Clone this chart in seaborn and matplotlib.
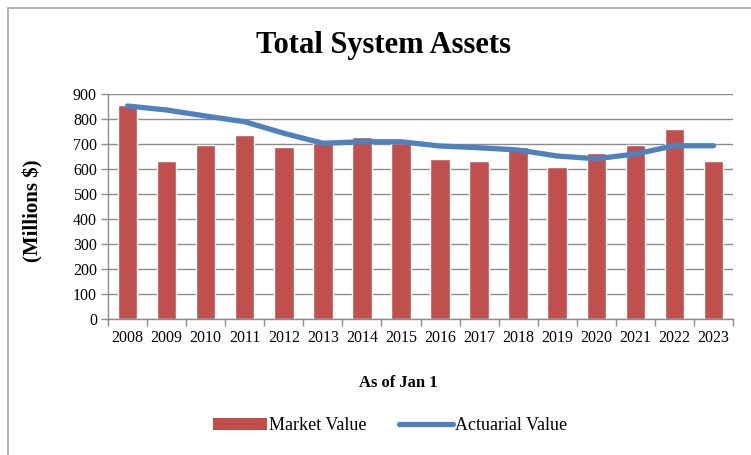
import numpy as np
import pandas as pd
import matplotlib
matplotlib.use("Agg")
import matplotlib.pyplot as plt
import seaborn as sns
from matplotlib.patches import Patch, Rectangle
from matplotlib.lines import Line2D

years = [str(y) for y in range(2008, 2024)]
market_value = [855, 632, 695, 736, 687, 703, 727, 703, 639, 632, 687, 607, 664, 695, 759, 632]
actuarial_value = [852, 836, 812, 789, 743, 703, 709, 709, 692, 685, 676, 652, 641, 660, 693, 693]

BAR_COLOR = "#C0504D"
LINE_COLOR = "#4F81BD"

sns.set_theme(style="white")
plt.rcParams["font.family"] = ["Liberation Serif", "DejaVu Serif"]
plt.rcParams["text.color"] = "black"

df = pd.DataFrame({"year": years, "market": market_value, "actuarial": actuarial_value})

fig = plt.figure(figsize=(7.51, 4.55), dpi=100)
ax = fig.add_axes([108 / 751, 1 - 319 / 455, (733 - 108) / 751, (319 - 94) / 455])

sns.barplot(data=df, x="year", y="market", color=BAR_COLOR, width=0.5,
            saturation=1, ax=ax, zorder=2)
sns.lineplot(x=np.arange(len(years)), y=df["actuarial"], color=LINE_COLOR,
             linewidth=3.8, ax=ax, zorder=3, solid_capstyle="round")

ax.set_ylim(0, 900)
ax.set_yticks(range(0, 901, 100))
ax.set_xlim(-0.5, len(years) - 0.5)
ax.yaxis.grid(True, color="#8c8c8c", linewidth=1.0, zorder=0)
ax.set_axisbelow(True)

for s in ["top", "right"]:
    ax.spines[s].set_visible(False)
for s in ["left", "bottom"]:
    ax.spines[s].set_color("#8c8c8c")
    ax.spines[s].set_linewidth(1.0)

# tick marks between categories
ax.set_xticks(np.arange(len(years)))
ax.set_xticklabels(years)
ax.set_xticks(np.arange(-0.5, len(years), 1), minor=True)
ax.tick_params(axis="x", which="major", length=0, pad=8, labelsize=11.5, labelcolor="black")
ax.tick_params(axis="x", which="minor", length=5, width=1, color="#8c8c8c", direction="out", bottom=True)
ax.tick_params(axis="y", length=5, width=1, color="#8c8c8c", direction="out", left=True,
               labelsize=11.5, pad=3, labelcolor="black")

ax.set_xlabel("")
ax.set_ylabel("")

fig.text(384 / 751, 1 - 45 / 455, "Total System Assets", ha="center", va="center",
         fontsize=22, fontweight="bold")
fig.text(33 / 751, 1 - 211 / 455, "(Millions $)", ha="center", va="center",
         rotation=90, fontsize=15, fontweight="bold")
fig.text(398 / 751, 1 - 383 / 455, "As of Jan 1", ha="center", va="center",
         fontsize=12, fontweight="bold")

handles = [Patch(facecolor=BAR_COLOR, edgecolor="none"),
           Line2D([0], [0], color=LINE_COLOR, linewidth=3.8, solid_capstyle="round")]
leg = fig.legend(handles, ["Market Value", "Actuarial Value"], loc="center",
                 bbox_to_anchor=(390 / 751, 1 - 426 / 455), ncol=2, frameon=False,
                 fontsize=13, handlelength=3.0, handleheight=0.6, columnspacing=1.8,
                 handletextpad=0.1)
for t in leg.get_texts():
    t.set_color("black")

# outer chart frame
fig.patches.append(Rectangle((8 / 751, -0.05), 1.2, 1 - 8 / 455 + 0.05, transform=fig.transFigure,
                             fill=False, edgecolor="#a6a6a6", linewidth=1.2))

fig.savefig("out.png", dpi=100)
